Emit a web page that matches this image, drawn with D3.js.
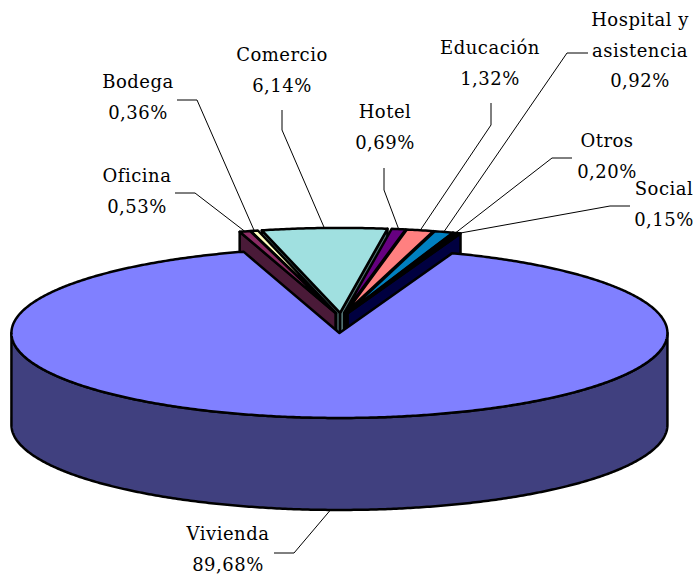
<!DOCTYPE html>
<html>
<head>
<meta charset="utf-8">
<script src="https://cdn.jsdelivr.net/npm/d3@7"></script>
<style>
  body { margin: 0; background: #fff; }
  svg { display: block; }
  .label { font-family: 'DejaVu Serif', serif; font-size: 18px; letter-spacing: 0.5px; fill: #000; }
</style>
</head>
<body>
<svg id="chart"></svg>
<script>
//
// Data
//

// slices in clockwise order, starting at the back-left of the pie
const categories = ['Oficina', 'Bodega', 'Comercio', 'Hotel', 'Educación',
  'Hospital y\nasistencia', 'Otros', 'Social', 'Vivienda'];
const values = [0.53, 0.36, 6.14, 0.69, 1.32, 0.92, 0.20, 0.15, 89.68];

// face colours (top and cut/side faces)
const topColors = ['#8c2c64', '#ffffc0', '#a0e0e0', '#660080', '#ff8080',
  '#0080c0', '#c0c0ff', '#000080', '#8080ff'];
const sideColors = ['#4a1a38', '#80805a', '#507070', '#330040', '#804040',
  '#004060', '#606080', '#000040', '#40407f'];

// explosion of each slice, as a share of the radius
const explode = [0.06, 0.06, 0.06, 0.06, 0.06, 0.06, 0.06, 0.06, 0.176];

// label placement: first baseline and the elbow of the leader line
const labelLayout = [
  { x: 137, y: 182, elbow: [[175, 193], [195, 193]] },
  { x: 138, y: 88, elbow: [[177, 100], [197, 100]] },
  { x: 282, y: 61, elbow: [[282, 110], [282, 130]] },
  { x: 385, y: 118, elbow: [[384, 168], [384, 190]] },
  { x: 490, y: 54, elbow: [[491, 103], [491, 125]] },
  { x: 640, y: 26, elbow: [[588, 53], [567, 53]] },
  { x: 607, y: 147, elbow: [[572, 158], [552, 158]] },
  { x: 664, y: 195, elbow: [[630, 206], [610, 206]] },
  { x: 228, y: 540, elbow: [[274, 553], [294, 553]] }
];

//
// Set-up
//

const width = 698;
const height = 580;
const cx = 341;
const cy = 318;
const rx = 328;
const ry = 85;
const depth = 92;
const lineHeight = 30.5;
const rad = Math.PI / 180;

const svg = d3.select('#chart')
  .attr('width', width)
  .attr('height', height);

// unit circle -> screen (y = +1 is the back of the pie)
const xScale = d3.scaleLinear().domain([-1, 1]).range([cx - rx, cx + rx]);
const yScale = d3.scaleLinear().domain([-1, 1]).range([cy + ry, cy - ry]);

const startAngle = -17 * rad;
const pie = d3.pie()
  .sort(null)
  .value(d => d)
  .startAngle(startAngle)
  .endAngle(startAngle + 2 * Math.PI);

const slices = pie(values).map((d, i) => {
  const mid = (d.startAngle + d.endAngle) / 2;
  return {
    ...d,
    i,
    mid,
    ox: explode[i] * Math.sin(mid),
    oy: explode[i] * Math.cos(mid)
  };
});

// projected point of a slice at angle a, radius r, z pixels below the top
const pt = (s, a, r, z) => [
  xScale(r * Math.sin(a) + s.ox),
  yScale(r * Math.cos(a) + s.oy) + z
];

const arcPts = (s, a0, a1, z) => {
  const n = Math.max(2, Math.ceil(Math.abs(a1 - a0) / (0.5 * rad)));
  return d3.range(n + 1).map(k => pt(s, a0 + (a1 - a0) * k / n, 1, z));
};

const line = d3.line();
const closed = p => line(p) + 'Z';

//
// Draw slices (back to front)
//

const pieGroup = svg.append('g').attr('class', 'pie');

const order = slices.slice().sort((a, b) => {
  if (a.i === 8) return 1;
  if (b.i === 8) return -1;
  return Math.cos(b.mid) - Math.cos(a.mid);
});

order.forEach(s => {
  const g = pieGroup.append('g').attr('class', 'slice');
  const faces = [];

  // outer side, front half only
  const s0 = Math.max(s.startAngle, Math.PI / 2);
  const s1 = Math.min(s.endAngle, 3 * Math.PI / 2);
  if (s1 > s0) {
    const topArc = arcPts(s, s0, s1, 0);
    const botArc = arcPts(s, s0, s1, depth).reverse();
    faces.push({ d: closed(topArc.concat(botArc)), fill: sideColors[s.i] });
  }

  // cut faces that turn towards the viewer
  if (Math.sin(s.startAngle) < 0 && s.i !== 8) {
    const a = s.startAngle;
    faces.push({ d: closed([pt(s, a, 0, 0), pt(s, a, 1, 0), pt(s, a, 1, depth), pt(s, a, 0, depth)]),
      fill: sideColors[s.i] });
  }
  if (Math.sin(s.endAngle) > 0 && s.i !== 8) {
    const a = s.endAngle;
    faces.push({ d: closed([pt(s, a, 0, 0), pt(s, a, 1, 0), pt(s, a, 1, depth), pt(s, a, 0, depth)]),
      fill: sideColors[s.i] });
  }

  // top face
  const top = [pt(s, 0, 0, 0)].concat(arcPts(s, s.startAngle, s.endAngle, 0));
  faces.push({ d: closed(top), fill: topColors[s.i] });

  g.selectAll('path')
    .data(faces)
    .enter().append('path')
      .attr('d', d => d.d)
      .style('fill', d => d.fill)
      .style('stroke', '#000')
      .style('stroke-width', 2.5)
      .style('stroke-linejoin', 'round');
});

//
// Leader lines and labels
//

const labelGroup = svg.append('g').attr('class', 'labels');

slices.forEach(s => {
  const lay = labelLayout[s.i];
  const front = Math.cos(s.mid) < 0;
  const anchor = pt(s, s.mid, 1, front ? depth : 0);

  labelGroup.append('path')
    .attr('d', line(lay.elbow.concat([anchor])))
    .style('fill', 'none')
    .style('stroke', '#000')
    .style('stroke-width', 1);

  const lines = categories[s.i].split('\n')
    .concat([values[s.i].toFixed(2).replace('.', ',') + '%']);

  const text = labelGroup.append('text')
    .attr('class', 'label')
    .attr('text-anchor', 'middle');

  text.selectAll('tspan')
    .data(lines)
    .enter().append('tspan')
      .attr('x', lay.x)
      .attr('y', (d, k) => lay.y + k * lineHeight)
      .text(d => d);
});
</script>
</body>
</html>
